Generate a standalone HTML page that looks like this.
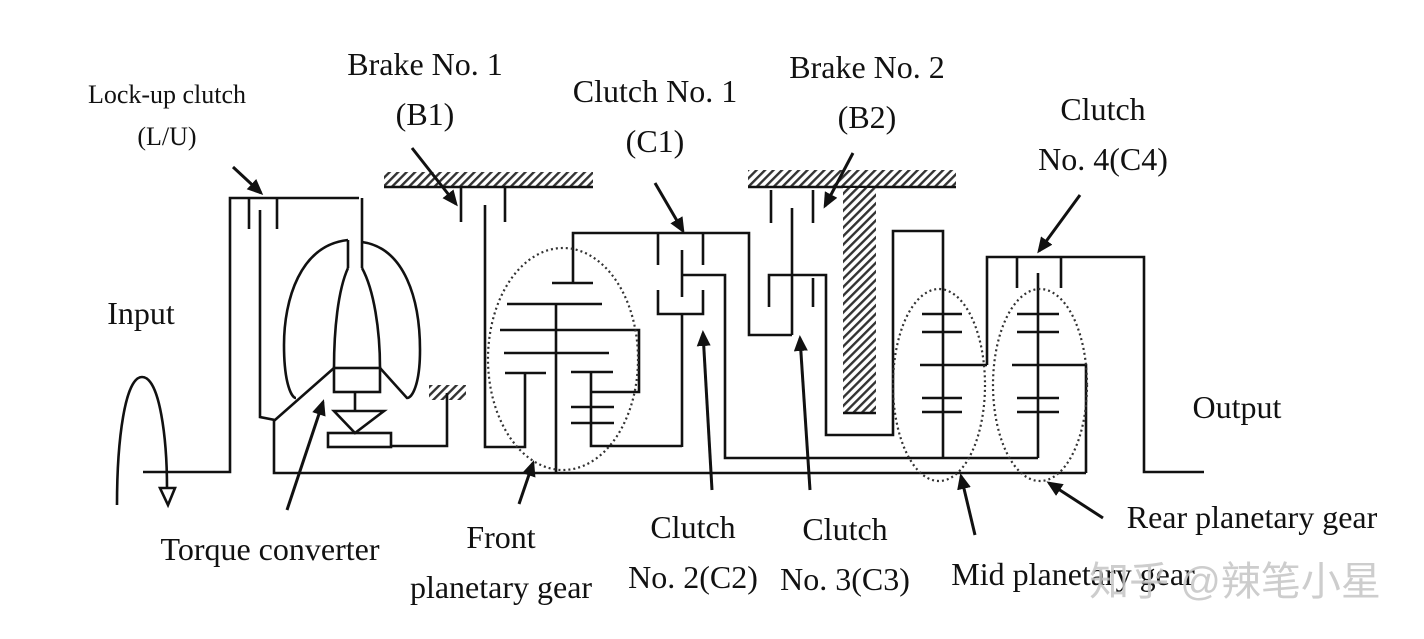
<!DOCTYPE html>
<html><head><meta charset="utf-8"><style>
html,body{margin:0;padding:0;background:#fff;}
svg{display:block;}
text{font-family:"Liberation Serif","Noto Serif CJK SC",serif;fill:#111;}
</style></head><body>
<svg width="1424" height="639" viewBox="0 0 1424 639" xmlns="http://www.w3.org/2000/svg">
<defs>
<pattern id="h" width="6" height="6" patternUnits="userSpaceOnUse" patternTransform="rotate(45)">
<rect width="6" height="6" fill="#fff"/><rect width="2.4" height="6" fill="#333"/>
</pattern>
<marker id="a" markerWidth="16" markerHeight="14" refX="13" refY="7" orient="auto" markerUnits="userSpaceOnUse" viewBox="0 0 16 14">
<path d="M0,0 L16,7 L0,14 z" fill="#111"/></marker>
</defs>
<g fill="none" stroke="#111" stroke-width="2.6">
<rect x="384" y="172" width="209" height="15" fill="url(#h)" stroke="none"/>
<line x1="384" y1="187" x2="593" y2="187"/>
<rect x="748" y="170" width="208" height="17" fill="url(#h)" stroke="none"/>
<line x1="748" y1="187" x2="956" y2="187"/>
<rect x="843" y="188" width="33" height="225" fill="url(#h)" stroke="none"/>
<line x1="843" y1="413" x2="876" y2="413"/>
<rect x="429" y="385" width="37" height="15" fill="url(#h)" stroke="none"/>

<polyline points="143,472 230,472 230,198 359,198"/>
<line x1="249" y1="198" x2="249" y2="229"/>
<line x1="277" y1="198" x2="277" y2="229"/>
<polyline points="260,210 260,417 275,420 334,368"/>
<polyline points="274,420 274,473 1086,473"/>
<line x1="362" y1="198" x2="362" y2="268"/>
<line x1="348" y1="240" x2="348" y2="268"/>
<path d="M348,240 C300,245 284,300 284,345 C284,385 292,398 296,398"/>
<path d="M362,242 C405,248 420,300 420,350 C420,385 412,398 407,398 L380,368"/>
<path d="M348,268 C338,290 334,330 334,368"/>
<path d="M362,268 C374,290 380,330 380,368"/>
<rect x="334" y="368" width="46" height="24"/>
<line x1="355" y1="392" x2="355" y2="411"/>
<path d="M334,411 L384,411 L355,433 z"/>
<rect x="328" y="433" width="63" height="14"/>
<polyline points="391,446 447,446 447,393"/>
<line x1="461" y1="188" x2="461" y2="222"/>
<line x1="505" y1="188" x2="505" y2="222"/>
<polyline points="485,205 485,447 525,447 525,373"/>
<line x1="505" y1="373" x2="546" y2="373"/>
<line x1="552" y1="283" x2="593" y2="283"/>
<polyline points="573,283 573,233 749,233 749,335 792,335"/>
<line x1="507" y1="304" x2="602" y2="304"/>
<line x1="556" y1="304" x2="556" y2="473"/>
<polyline points="500,330 639,330 639,392 591,392"/>
<line x1="504" y1="353" x2="609" y2="353"/>
<line x1="571" y1="372" x2="613" y2="372"/>
<polyline points="591,372 591,446 682,446"/>
<line x1="571" y1="407" x2="614" y2="407"/>
<line x1="571" y1="423" x2="614" y2="423"/>
<line x1="658" y1="233" x2="658" y2="265"/>
<line x1="703" y1="233" x2="703" y2="265"/>
<line x1="682" y1="250" x2="682" y2="297"/>
<polyline points="658,290 658,314 703,314 703,290"/>
<line x1="682" y1="314" x2="682" y2="447"/>
<polyline points="682,275 725,275 725,458 1038,458"/>
<line x1="771" y1="190" x2="771" y2="223"/>
<line x1="813" y1="190" x2="813" y2="223"/>
<line x1="792" y1="208" x2="792" y2="335"/>
<polyline points="769,307 769,275 826,275 826,435 893,435 893,231 943,231 943,458"/>
<line x1="813" y1="278" x2="813" y2="307"/>
<line x1="922" y1="314" x2="962" y2="314"/>
<line x1="922" y1="332" x2="962" y2="332"/>
<line x1="920" y1="365" x2="987" y2="365"/>
<line x1="922" y1="398" x2="962" y2="398"/>
<line x1="922" y1="412" x2="962" y2="412"/>
<polyline points="987,365 987,257 1144,257 1144,472 1204,472"/>
<line x1="1017" y1="257" x2="1017" y2="288"/>
<line x1="1061" y1="257" x2="1061" y2="288"/>
<line x1="1038" y1="273" x2="1038" y2="458"/>
<line x1="1017" y1="314" x2="1059" y2="314"/>
<line x1="1017" y1="332" x2="1059" y2="332"/>
<polyline points="1012,365 1086,365 1086,473"/>
<line x1="1017" y1="398" x2="1059" y2="398"/>
<line x1="1017" y1="412" x2="1059" y2="412"/>
</g>
<g fill="none" stroke="#333" stroke-width="2.2" stroke-dasharray="2,3">
<ellipse cx="563" cy="359" rx="75" ry="111"/>
<ellipse cx="939" cy="385" rx="46" ry="96"/>
<ellipse cx="1040" cy="385" rx="47" ry="96"/>
</g>
<g fill="none" stroke="#111" stroke-width="2.6">
<path d="M117,505 C117,440 125,377 142,377 C160,377 167,440 167,488"/>
<path d="M160,488 L175,488 L168,505 z" fill="#fff"/>
</g>
<g stroke="#111" stroke-width="3" marker-end="url(#a)">
<line x1="233" y1="167" x2="261" y2="193"/>
<line x1="412" y1="148" x2="456" y2="204"/>
<line x1="655" y1="183" x2="683" y2="231"/>
<line x1="853" y1="153" x2="825" y2="206"/>
<line x1="1080" y1="195" x2="1039" y2="251"/>
<line x1="287" y1="510" x2="323" y2="402"/>
<line x1="519" y1="504" x2="533" y2="463"/>
<line x1="712" y1="490" x2="703" y2="333"/>
<line x1="810" y1="490" x2="800" y2="338"/>
<line x1="975" y1="535" x2="961" y2="476"/>
<line x1="1103" y1="518" x2="1049" y2="483"/>
</g>
<g text-anchor="middle">
<text x="167" y="103" font-size="26">Lock-up clutch</text>
<text x="167" y="145" font-size="26">(L/U)</text>
<text x="425" y="75" font-size="32">Brake No. 1</text>
<text x="425" y="125" font-size="32">(B1)</text>
<text x="655" y="102" font-size="32">Clutch No. 1</text>
<text x="655" y="152" font-size="32">(C1)</text>
<text x="867" y="78" font-size="32">Brake No. 2</text>
<text x="867" y="128" font-size="32">(B2)</text>
<text x="1103" y="120" font-size="32">Clutch</text>
<text x="1103" y="170" font-size="32">No. 4(C4)</text>
<text x="141" y="324" font-size="32">Input</text>
<text x="1237" y="418" font-size="32">Output</text>
<text x="270" y="560" font-size="32">Torque converter</text>
<text x="501" y="548" font-size="32">Front</text>
<text x="501" y="598" font-size="32">planetary gear</text>
<text x="693" y="538" font-size="32">Clutch</text>
<text x="693" y="588" font-size="32">No. 2(C2)</text>
<text x="845" y="540" font-size="32">Clutch</text>
<text x="845" y="590" font-size="32">No. 3(C3)</text>
<text x="1073" y="585" font-size="32">Mid planetary gear</text>
<text x="1252" y="528" font-size="32">Rear planetary gear</text>
<text x="1235" y="595" font-size="40" style="fill:#c4c4c4;font-family:'Liberation Sans','Noto Sans CJK SC',sans-serif" fill-opacity="0.85">知乎 @辣笔小星</text>
</g>
</svg>
</body></html>
